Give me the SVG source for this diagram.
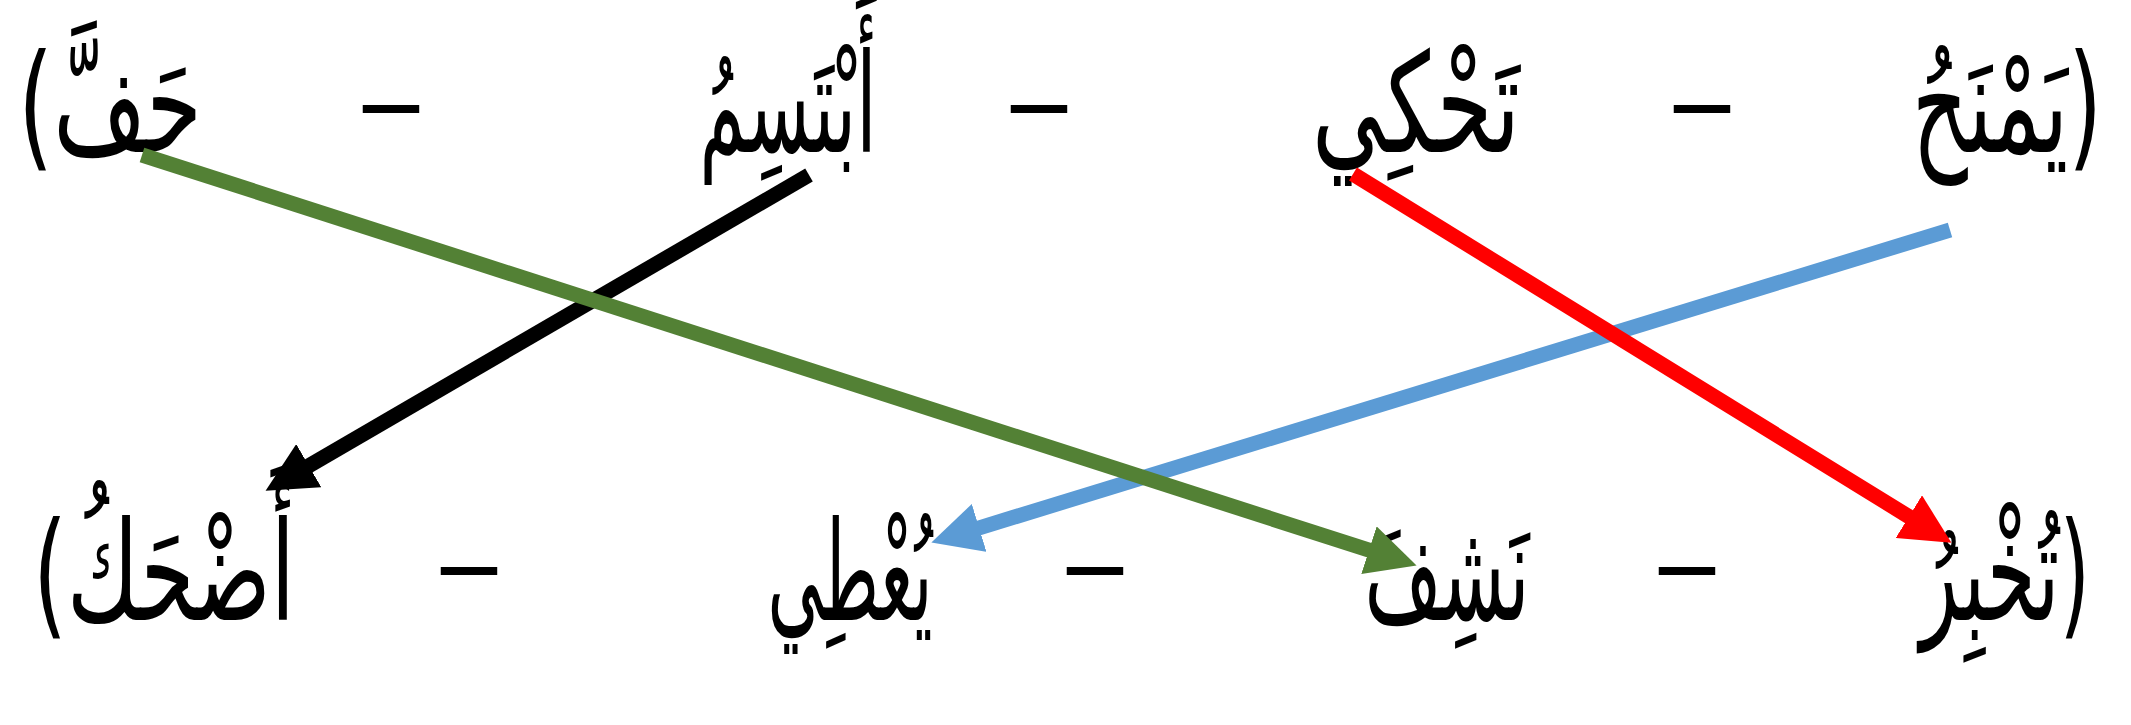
<svg xmlns="http://www.w3.org/2000/svg" width="2131" height="725" viewBox="0 0 2131 725">
<style>
.w{font-family:"DejaVu Sans",sans-serif;font-size:60px;fill:#000;text-anchor:middle;direction:rtl}
.d{font-family:"Liberation Serif",serif;font-size:80px;fill:#000;text-anchor:middle}
.c{fill:none;stroke-width:15;stroke-linecap:butt}
</style>
<defs>
<marker id="hGreen" markerUnits="userSpaceOnUse" markerWidth="50" markerHeight="50" refX="8" refY="24" orient="auto" viewBox="0 0 48 48"><path d="M0,0 L48,24 L0,48 z" fill="#538135"/></marker>
<marker id="hBlack" markerUnits="userSpaceOnUse" markerWidth="50" markerHeight="50" refX="8" refY="24" orient="auto" viewBox="0 0 48 48"><path d="M0,0 L48,24 L0,48 z" fill="#000000"/></marker>
<marker id="hRed" markerUnits="userSpaceOnUse" markerWidth="50" markerHeight="50" refX="8" refY="24" orient="auto" viewBox="0 0 48 48"><path d="M0,0 L48,24 L0,48 z" fill="#ff0000"/></marker>
<marker id="hBlue" markerUnits="userSpaceOnUse" markerWidth="50" markerHeight="50" refX="8" refY="24" orient="auto" viewBox="0 0 48 48"><path d="M0,0 L48,24 L0,48 z" fill="#5b9bd5"/></marker>
</defs>
<rect width="2131" height="725" fill="#fff"/>
<g id="top-row">
<g id="n-yamnahu"><text class="w" transform="translate(2007,152) scale(1,2.3)" textLength="190" lengthAdjust="spacingAndGlyphs">(يَمْنَحُ</text></g>
<g id="n-tahki"><text class="w" transform="translate(1416,152) scale(1,2.3)" textLength="208" lengthAdjust="spacingAndGlyphs">تَحْكِي</text></g>
<g id="n-abtasimu"><text class="w" transform="translate(788,152) scale(1,2.3)" textLength="177" lengthAdjust="spacingAndGlyphs">أَبْتَسِمُ</text></g>
<g id="n-haffa"><text class="w" transform="translate(110,152) scale(1,2.3)" textLength="184" lengthAdjust="spacingAndGlyphs">حَفَّ)</text></g>
</g>
<g id="bottom-row">
<g id="n-tukhbiru"><text class="w" transform="translate(2005,620) scale(1,2.3)" textLength="170" lengthAdjust="spacingAndGlyphs">(تُخْبِرُ</text></g>
<g id="n-nashifa"><text class="w" transform="translate(1447,620) scale(1,2.3)" textLength="165" lengthAdjust="spacingAndGlyphs">نَشِفَ</text></g>
<g id="n-yuti"><text class="w" transform="translate(850,620) scale(1,2.3)" textLength="165" lengthAdjust="spacingAndGlyphs">يُعْطِي</text></g>
<g id="n-adhaku"><text class="w" transform="translate(164,620) scale(1,2.3)" textLength="262" lengthAdjust="spacingAndGlyphs">أَضْحَكُ)</text></g>
</g>
<g id="separators">
<text class="d" transform="translate(1702,147) scale(1,2)" textLength="55" lengthAdjust="spacingAndGlyphs">–</text>
<text class="d" transform="translate(1039,147) scale(1,2)" textLength="55" lengthAdjust="spacingAndGlyphs">–</text>
<text class="d" transform="translate(391,147) scale(1,2)" textLength="55" lengthAdjust="spacingAndGlyphs">–</text>
<text class="d" transform="translate(1687,609) scale(1,2)" textLength="55" lengthAdjust="spacingAndGlyphs">–</text>
<text class="d" transform="translate(1095,609) scale(1,2)" textLength="55" lengthAdjust="spacingAndGlyphs">–</text>
<text class="d" transform="translate(469,609) scale(1,2)" textLength="55" lengthAdjust="spacingAndGlyphs">–</text>
</g>
<g id="connectors">
<line class="c" stroke="#000000" x1="809" y1="175" x2="301.6" y2="469.9" marker-end="url(#hBlack)"/>
<line class="c" stroke="#5b9bd5" x1="1950" y1="230" x2="971.2" y2="530.3" marker-end="url(#hBlue)"/>
<line class="c" stroke="#538135" x1="142" y1="155" x2="1376.9" y2="552.7" marker-end="url(#hGreen)"/>
<line class="c" stroke="#ff0000" x1="1353" y1="174" x2="1916" y2="521" marker-end="url(#hRed)"/>
</g>
</svg>
